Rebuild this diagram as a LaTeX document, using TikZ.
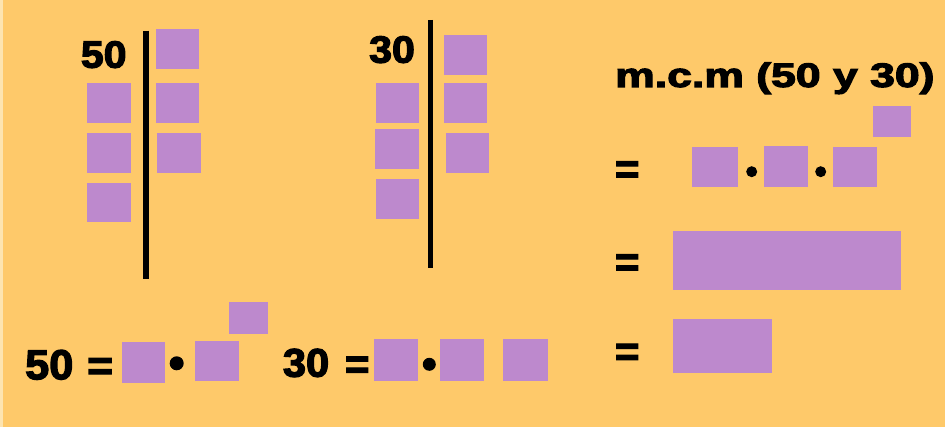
\documentclass[tikz,border=0pt]{standalone}
\usepackage{fontspec}
\setmainfont{Liberation Sans}[BoldFeatures={FakeBold=3}]
\definecolor{bgc}{RGB}{254,201,106}
\definecolor{boxc}{RGB}{189,137,205}
\definecolor{edgec}{RGB}{253,228,176}
\begin{document}
\begin{tikzpicture}[x=1pt,y=-1pt,
  sq/.style={fill=boxc},
  bar/.style={line width=5.5pt, black},
  dotc/.style={fill=black},
  lbl/.style={anchor=base west, inner sep=0pt, text=black}]
\useasboundingbox (0,0) rectangle (945,427);
\fill[bgc] (0,0) rectangle (945,427);
\fill[edgec] (0,0) rectangle (2.5,427);

% ---- factor tree of 50
\node[lbl, font=\bfseries\fontsize{38}{40}\selectfont] (n50) at (80.7,67.7) {\scalebox{1.08}[1]{50}};
\coordinate (b50t) at (146,30.7);
\coordinate (b50b) at (146,279);
\draw[bar] (b50t) -- (b50b);
\fill[sq] (86.7,82.7) rectangle (131,122.7);
\fill[sq] (86.7,133) rectangle (131,172.7);
\fill[sq] (86.7,182.7) rectangle (131,222.3);
\fill[sq] (156,29) rectangle (199.3,69);
\fill[sq] (156,82.7) rectangle (199.3,122.7);
\fill[sq] (157.3,133) rectangle (201,172.7);

% ---- factor tree of 30
\node[lbl, font=\bfseries\fontsize{38}{40}\selectfont] (n30) at (369,62.7) {\scalebox{1.08}[1]{30}};
\coordinate (b30t) at (430.7,20);
\coordinate (b30b) at (430.7,268.3);
\draw[bar] (b30t) -- (b30b);
\fill[sq] (376,82.7) rectangle (419.3,122.7);
\fill[sq] (375,129) rectangle (418.7,169.3);
\fill[sq] (376,179.3) rectangle (419.3,219);
\fill[sq] (444,35) rectangle (487.3,75);
\fill[sq] (444,82.7) rectangle (487.3,122.7);
\fill[sq] (445.7,132.7) rectangle (489,172.7);

% ---- bottom: 50 = ...
\node[lbl, font=\bfseries\fontsize{42}{44}\selectfont] (f50) at (25,379.3) {\scalebox{1.03}[1]{50}};
\node[lbl, font=\bfseries\fontsize{42}{44}\selectfont] (e50) at (87,380) {\scalebox{1.05}[1]{=}};
\fill[sq] (121.7,342.3) rectangle (165,382.7);
\fill[dotc] (176.7,363.3) circle[radius=7pt];
\fill[sq] (195,340.7) rectangle (239.3,380.7);
\fill[sq] (229,301.7) rectangle (267.7,334);

% ---- bottom: 30 = ...
\node[lbl, font=\bfseries\fontsize{40}{42}\selectfont] (f30) at (282.7,376.7) {\scalebox{1.04}[1]{30}};
\node[lbl, font=\bfseries\fontsize{42}{44}\selectfont] (e30) at (344.7,378.5) {\scalebox{1.0}[1]{=}};
\fill[sq] (374,339.3) rectangle (418.3,380.7);
\fill[dotc] (429.3,364.3) circle[radius=6.5pt];
\fill[sq] (440,339.3) rectangle (484.3,380.7);
\fill[sq] (503.3,339.3) rectangle (547.7,380.7);

% ---- right: m.c.m
\node[lbl, font=\bfseries\fontsize{34}{36}\selectfont] (title) at (615,87) {\scalebox{1.31}[1]{m.c.m (50 y 30)}};
\node[lbl, font=\bfseries\fontsize{42}{44}\selectfont] (eq1) at (614.7,183.3) {\scalebox{1.0}[1]{=}};
\node[lbl, font=\bfseries\fontsize{42}{44}\selectfont] (eq2) at (614.7,276.3) {\scalebox{1.0}[1]{=}};
\node[lbl, font=\bfseries\fontsize{42}{44}\selectfont] (eq3) at (614.7,365.8) {\scalebox{1.0}[1]{=}};
\fill[sq] (872.7,105.7) rectangle (911,136.7);
\fill[sq] (692.3,147.3) rectangle (738.3,186.7);
\fill[dotc] (751.7,171.7) circle[radius=5.5pt];
\fill[sq] (764,146) rectangle (808.3,186.7);
\fill[dotc] (820.7,171.7) circle[radius=5.5pt];
\fill[sq] (833.3,147.3) rectangle (876.7,186.7);
\fill[sq] (673.3,231) rectangle (900.7,290);
\fill[sq] (673.3,319.3) rectangle (771.7,372.7);
\end{tikzpicture}
\end{document}
